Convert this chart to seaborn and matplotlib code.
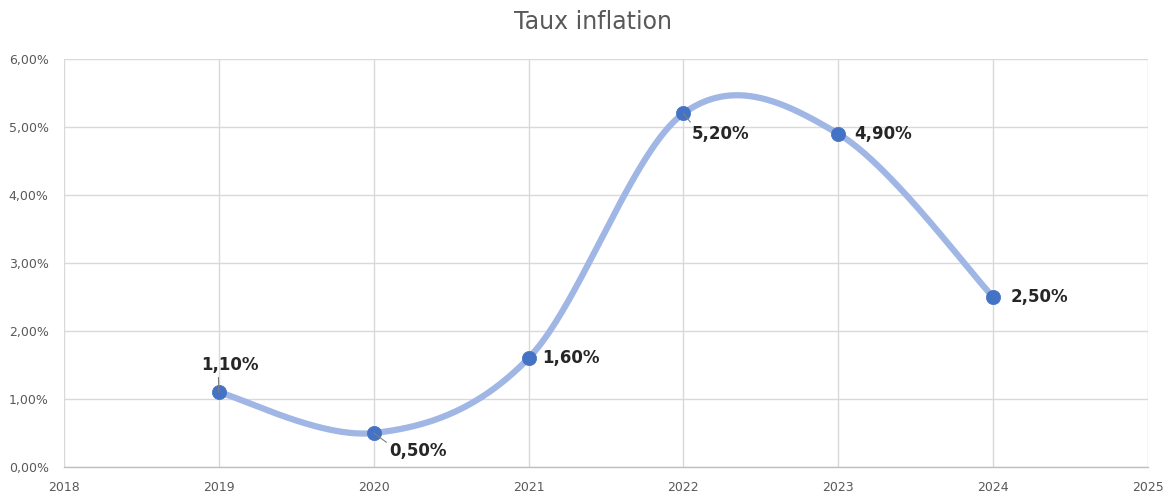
import numpy as np
import pandas as pd
import matplotlib
matplotlib.use("Agg")
import matplotlib.pyplot as plt
from matplotlib.ticker import FuncFormatter, MultipleLocator
import seaborn as sns

years = [2019, 2020, 2021, 2022, 2023, 2024]
inflation = [1.10, 0.50, 1.60, 5.20, 4.90, 2.50]
point_labels = ["1,10%", "0,50%", "1,60%", "5,20%", "4,90%", "2,50%"]

# label placement (pixels from the point), and whether a leader line is drawn
label_offsets = [(11, 27), (16, -18), (14, 0), (8, -21), (16, 0), (17, 0)]
label_ha = ["center", "left", "left", "left", "left", "left"]
leaders = [True, True, False, True, False, False]


def smooth(xs, ys, n=80):
    # Excel-like smoothed line (Catmull-Rom)
    px = [xs[0]] + list(xs) + [xs[-1]]
    py = [ys[0]] + list(ys) + [ys[-1]]
    outx, outy = [], []
    for i in range(1, len(px) - 2):
        t = np.linspace(0, 1, n)
        mx0 = (px[i + 1] - px[i - 1]) / 2
        mx1 = (px[i + 2] - px[i]) / 2
        my0 = (py[i + 1] - py[i - 1]) / 2
        my1 = (py[i + 2] - py[i]) / 2
        h00 = 2 * t**3 - 3 * t**2 + 1
        h10 = t**3 - 2 * t**2 + t
        h01 = -2 * t**3 + 3 * t**2
        h11 = t**3 - t**2
        outx.extend(h00 * px[i] + h10 * mx0 + h01 * px[i + 1] + h11 * mx1)
        outy.extend(h00 * py[i] + h10 * my0 + h01 * py[i + 1] + h11 * my1)
    return np.array(outx), np.array(outy)


sns.set_theme(style="white")
plt.rcParams['font.family'] = ['DejaVu Sans']

fig = plt.figure(figsize=(11.68, 4.93), dpi=100)
ax = fig.add_axes([64 / 1168, 1 - 467 / 493, (1148 - 64) / 1168, (467 - 59) / 493])

sx, sy = smooth(years, inflation)
curve = pd.DataFrame({"year": sx, "rate": sy})
ax.plot(curve["year"], curve["rate"], color="#A0B6E5", lw=4.5,
        solid_capstyle="round", zorder=3)

df = pd.DataFrame({"year": years, "rate": inflation})
sns.scatterplot(data=df, x="year", y="rate", ax=ax, s=105, color="#4472C4",
                edgecolor="#4472C4", linewidth=0.5, zorder=4)

for x, y, lab, off, ha, lead in zip(years, inflation, point_labels,
                                    label_offsets, label_ha, leaders):
    ax.annotate(lab, (x, y), xytext=off, textcoords="offset pixels",
                ha=ha, va="center", fontsize=12, fontweight="bold",
                color="#262626", zorder=5,
                arrowprops=dict(arrowstyle="-", color="#7F7F7F", lw=0.8,
                                shrinkA=0, shrinkB=0,
                                relpos=(0.15, 0.5) if ha == "left" else (0.3, 0.0))
                if lead else None)

ax.set_xlim(2018, 2025)
ax.set_ylim(0, 6)
ax.xaxis.set_major_locator(MultipleLocator(1))
ax.yaxis.set_major_locator(MultipleLocator(1))
ax.xaxis.set_major_formatter(FuncFormatter(lambda v, p: f"{int(round(v))}"))
ax.yaxis.set_major_formatter(FuncFormatter(lambda v, p: f"{v:.2f}%".replace(".", ",")))
ax.grid(True, color="#D9D9D9", lw=1)
ax.set_axisbelow(True)
for s in ["left", "right", "top"]:
    ax.spines[s].set_visible(False)
ax.spines["bottom"].set_color("#BFBFBF")
ax.spines["bottom"].set_linewidth(1)
ax.tick_params(axis="both", length=0, labelsize=9, labelcolor="#595959")
ax.tick_params(axis="x", pad=10)
ax.tick_params(axis="y", pad=11)
ax.set_xlabel("")
ax.set_ylabel("")

fig.text(593 / 1168, 1 - 22 / 493, "Taux inflation", ha="center", va="center",
         fontsize=17, color="#595959")

fig.savefig("out.png", dpi=100, facecolor="white")
